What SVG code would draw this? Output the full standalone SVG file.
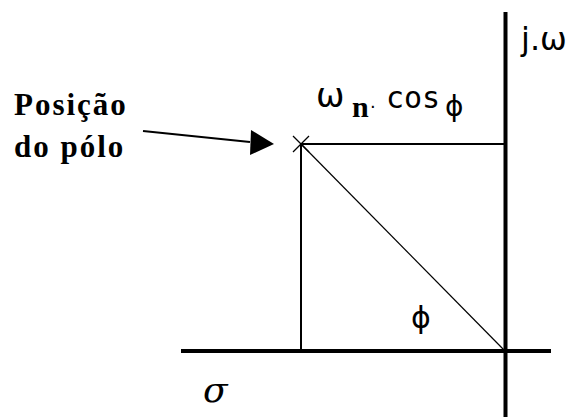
<svg xmlns="http://www.w3.org/2000/svg" width="567" height="417" viewBox="0 0 567 417">
<style>
.axis{stroke:#000;stroke-width:4;fill:none}
.edge{stroke:#000;stroke-width:2;fill:none}
.thin{stroke:#000;stroke-width:1.2;fill:none}
.lbl{font-family:"Liberation Serif",serif;font-weight:bold;font-size:31px;letter-spacing:2px;fill:#000}
.gk{font-family:"DejaVu Sans",sans-serif;fill:#000}
.mono{font-family:"DejaVu Sans Mono",monospace;fill:#000}
</style>
<rect width="567" height="417" fill="#fff"/>
<g id="connectors">
<line class="axis" x1="505.5" y1="12" x2="505.5" y2="417"/>
<line class="axis" x1="181" y1="351" x2="551" y2="351"/>
<line class="edge" x1="301" y1="144" x2="301" y2="351"/>
<line class="edge" x1="301" y1="144" x2="505" y2="144"/>
<line class="thin" x1="301" y1="144" x2="505" y2="351"/>
<polyline class="edge" points="143,131 250,142"/>
<polygon points="251,130 250,155 274,144" fill="#000"/>
</g>
<g id="pole">
<line class="thin" x1="293" y1="136" x2="309" y2="152"/>
<line class="thin" x1="309" y1="136" x2="293" y2="152"/>
</g>
<g id="label-pole">
<text class="lbl" x="14" y="115">Posição</text>
<text class="lbl" x="14" y="157">do pólo</text>
</g>
<g id="label-jw">
<text class="gk" x="521" y="50" font-size="32">j.ω</text>
</g>
<g id="label-wn">
<text class="gk" x="316" y="107" font-size="34" textLength="27">ω</text>
<text x="352" y="117" font-family="Liberation Serif,serif" font-weight="bold" font-size="30" fill="#000">n</text>
<text class="gk" x="370" y="108" font-size="18">.</text>
<text class="mono" x="386" y="108" font-size="30">cos</text>
<text class="gk" x="445" y="116" font-size="28">ϕ</text>
</g>
<g id="label-phi">
<text class="gk" x="411" y="328" font-size="30">ϕ</text>
</g>
<g id="label-sigma">
<text x="203" y="402" font-family="DejaVu Serif,serif" font-style="italic" font-size="36" fill="#000">σ</text>
</g>
</svg>
